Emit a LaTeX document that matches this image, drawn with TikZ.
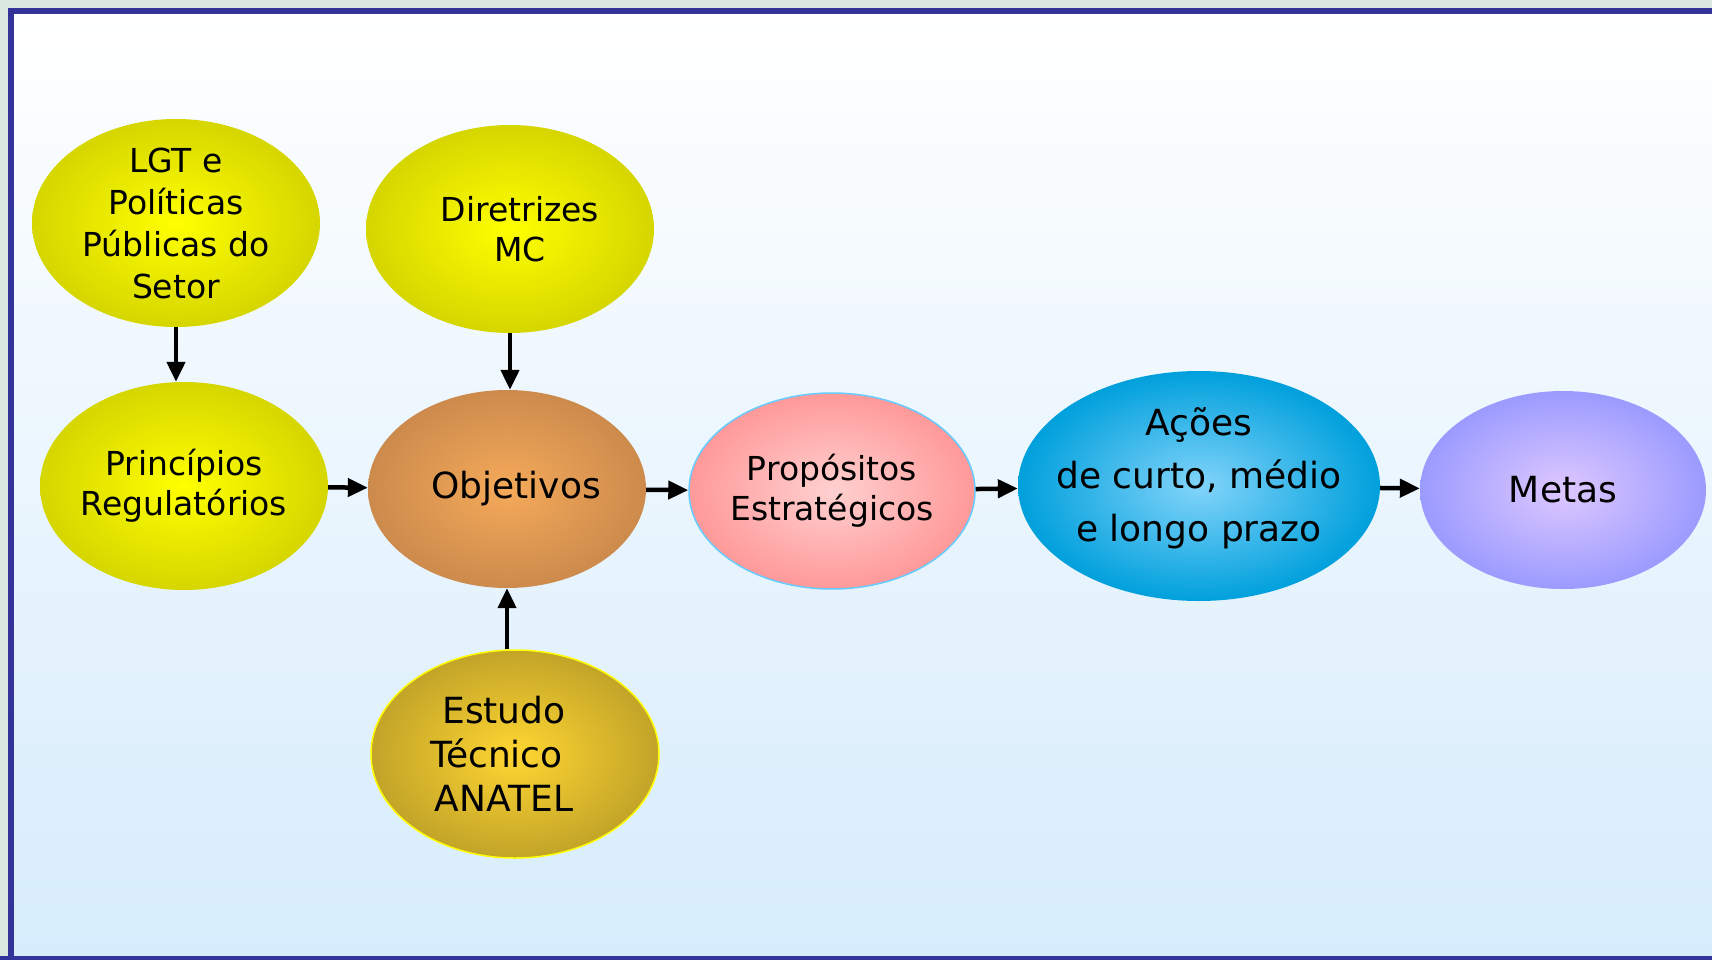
\documentclass[tikz,border=0pt]{standalone}
\usepackage{fontspec}
\setmainfont{DejaVu Sans}
\usetikzlibrary{shapes, arrows.meta}
\definecolor{framecol}{RGB}{51,51,153}
\definecolor{edgecol}{RGB}{218,232,225}
\definecolor{skyback}{RGB}{214,236,252}
\definecolor{yellowin}{RGB}{255,255,0}
\definecolor{yellowout}{RGB}{214,214,0}
\definecolor{orangein}{RGB}{245,170,90}
\definecolor{orangeout}{RGB}{204,138,76}
\definecolor{pinkin}{RGB}{255,208,208}
\definecolor{pinkout}{RGB}{255,153,153}
\definecolor{pinkline}{RGB}{102,204,255}
\definecolor{bluein}{RGB}{130,212,250}
\definecolor{blueout}{RGB}{0,160,220}
\definecolor{violetin}{RGB}{222,200,255}
\definecolor{violetout}{RGB}{155,155,255}
\definecolor{goldin}{RGB}{255,214,50}
\definecolor{goldout}{RGB}{194,164,40}
\tikzstyle{ball} = [ellipse, inner sep=-20pt, minimum width=288pt, minimum height=208pt, align=center, font=\fontsize{33}{40}\selectfont]
\tikzstyle{oliveball} = [ball, inner color=yellowin, outer color=yellowout]
\tikzstyle{orangeball} = [ball, inner color=orangein, outer color=orangeout]
\tikzstyle{pinkball} = [ball, inner color=pinkin, outer color=pinkout, draw=pinkline, line width=1.5pt]
\tikzstyle{blueball} = [ball, inner color=bluein, outer color=blueout]
\tikzstyle{violetball} = [ball, inner color=violetin, outer color=violetout]
\tikzstyle{goldball} = [ball, inner color=goldin, outer color=goldout, draw=yellowin, line width=1.5pt]
\tikzstyle{arrow} = [line width=4.5pt, -{Triangle[length=20pt,width=18pt]}]

\begin{document}
\begin{tikzpicture}[x=1pt, y=-1pt]
    % Background and frame
    \useasboundingbox (0,0) rectangle (1712,960);
    \clip (0,0) rectangle (1712,960);
    \fill[edgecol] (0,0) rectangle (1712,960);
    \shade[top color=white, bottom color=skyback] (11,11) rectangle (1712,960);
    \draw[framecol, line width=6pt] (11,990) -- (11,11) -- (1750,11);
    \draw[framecol, line width=5pt] (0,958) -- (1712,958);

    % Nodes
    \node (lgt) [oliveball, font=\fontsize{33}{42}\selectfont] at (176,223) {LGT e\\Políticas\\Públicas do\\Setor};
    \node (dir) [oliveball] at (510,229) {\hspace*{20pt}Diretrizes\\\hspace*{20pt}MC};
    \node (princ) [oliveball] at (184,486) {Princípios\\Regulatórios};
    \node (obj) [orangeball, minimum width=278pt, minimum height=198pt, font=\fontsize{36}{43}\selectfont] at (507,489) {\hspace*{18pt}Objetivos};
    \node (prop) [pinkball, minimum width=286pt, minimum height=196pt] at (832,491) {Propósitos\\Estratégicos};
    \node (acoes) [blueball, minimum width=362pt, minimum height=230pt, text depth=23pt, font=\fontsize{36}{53}\selectfont] at (1199,486) {Ações\\de curto, médio\\e longo prazo};
    \node (metas) [violetball, minimum width=286pt, minimum height=198pt, font=\fontsize{36}{43}\selectfont] at (1563,490) {Metas};
    \node (est) [goldball, font=\fontsize{36}{44}\selectfont] at (515,754) {\hspace*{-22pt}Estudo\\\hspace*{-37pt}Técnico\\\hspace*{-22pt}ANATEL};

    % Arrows
    \draw [arrow] (lgt.south) -- (lgt.south |- princ.north);
    \draw [arrow] (dir.south) -- (dir.south |- obj.north);
    \draw [arrow] (est.north -| obj.south) -- (obj.south);
    \draw [arrow] (princ) -- (obj);
    \draw [arrow] (obj) -- (prop);
    \draw [arrow] (prop) -- (acoes);
    \draw [arrow] (acoes) -- (metas);
\end{tikzpicture}
\end{document}
